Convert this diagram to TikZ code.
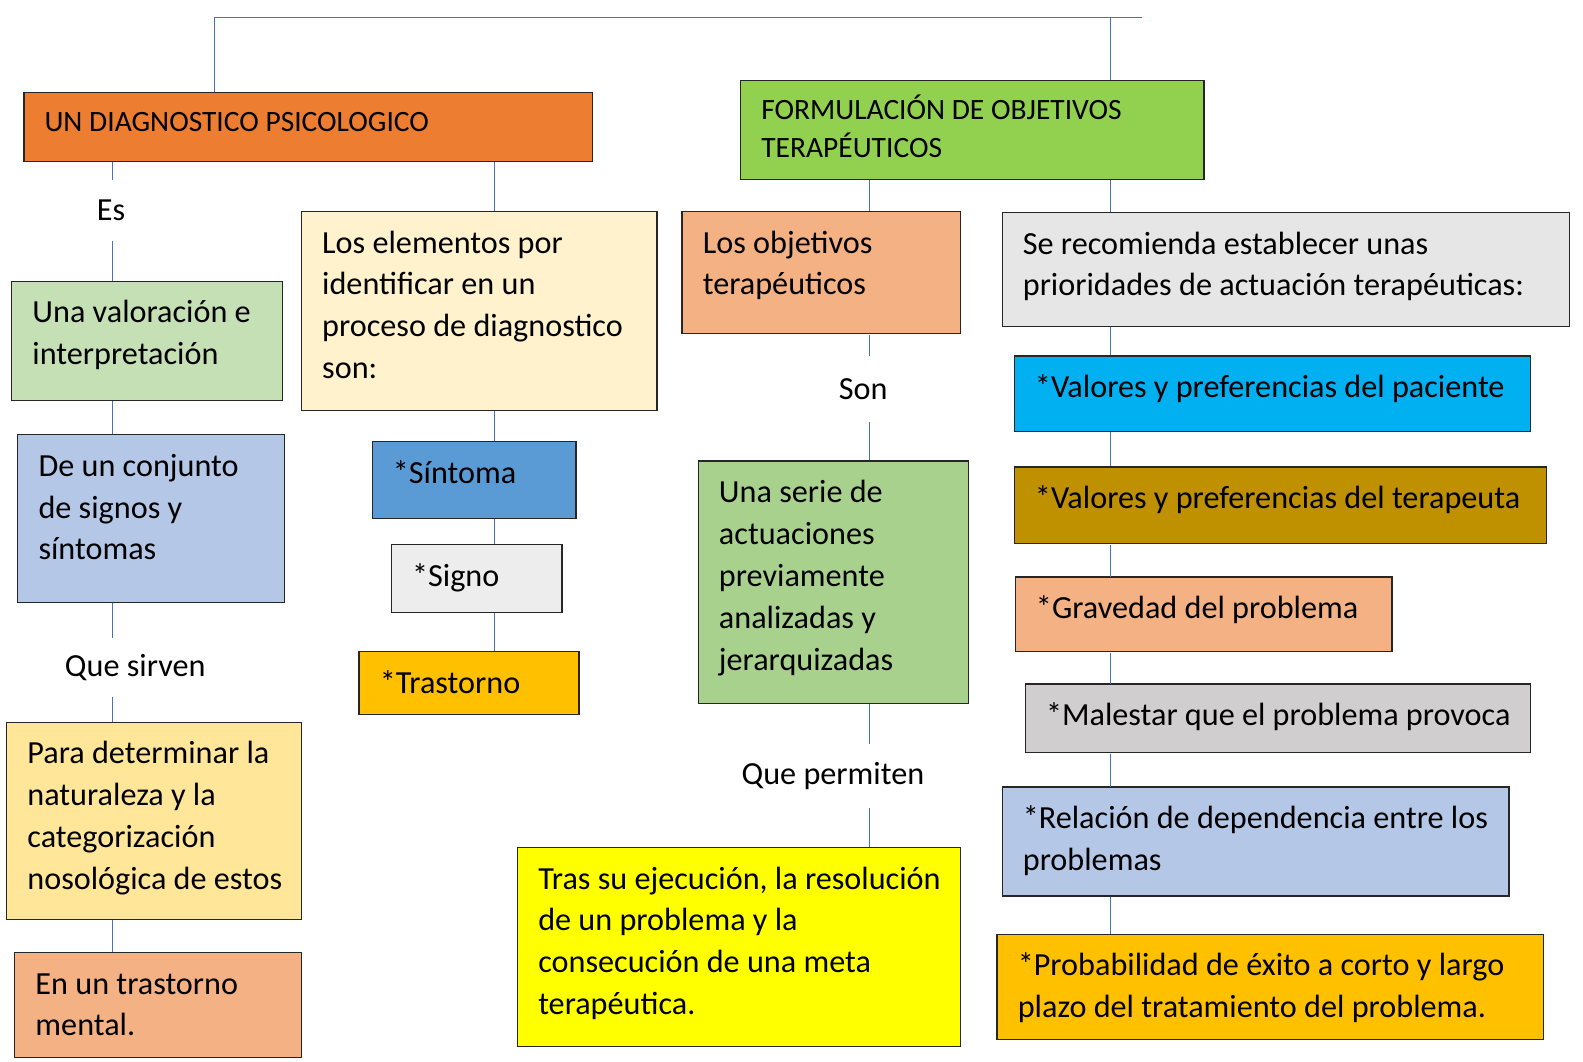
\documentclass[tikz,border=0pt]{standalone}
\usepackage{fontspec}
\setmainfont{Carlito}
\usetikzlibrary{positioning}

\definecolor{azul}{HTML}{4472C4}
\newcommand\cuerpo{\fontsize{31.9}{41.5}\selectfont}
\newcommand\titulo{\fontsize{29.2}{38}\selectfont}

\tikzset{
  caja/.style={draw=black!85,line width=1.3pt,anchor=north west,align=left,
    inner xsep=20.5pt,inner ysep=0pt,text height=41pt,font=\cuerpo,
    execute at begin node={\spaceskip=0pt\xspaceskip=0pt\hyphenpenalty=10000
      \rightskip=0pt plus 1fil minus 40pt}},
  cabeza/.style={caja,text height=38.5pt,font=\titulo},
  rotulo/.style={font=\cuerpo,inner sep=0pt},
  enlace/.style={draw=azul,line width=1pt}
}

\begin{document}
\begin{tikzpicture}[x=1pt,y=-1pt,scale=1.0096,every node/.append style={transform shape}]
\useasboundingbox (0,0) rectangle (1568,1051);

\coordinate (eje1) at (111,0);
\coordinate (eje2) at (490,0);
\coordinate (eje3) at (861,0);
\coordinate (eje4) at (1100,0);
\coordinate (esquina) at (212,17);
\coordinate (cierre) at (1131,17);

% cabeceras
\node [cabeza,fill={rgb,255:red,237;green,125;blue,49},text width=522pt,text depth=29.5pt] (diag) at (23,91) {UN DIAGNOSTICO PSICOLOGICO};
\node [cabeza,fill={rgb,255:red,146;green,208;blue,80},text width=418pt,text depth=59.5pt] (formul) at (733,79) {FORMULACIÓN DE OBJETIVOS\\TERAPÉUTICOS};

% columna 1
\node [rotulo,minimum height=60pt] (es) at (110,208) {Es};
\node [caja,fill={rgb,255:red,197;green,224;blue,180},text width=227pt,text depth=77pt] (valor) at (11,278) {Una valoración e\\interpretación};
\node [caja,fill={rgb,255:red,180;green,199;blue,231},text width=223pt,text depth=125pt] (conjunto) at (17,430) {De un conjunto\\de signos y\\síntomas};
\node [rotulo,minimum height=58pt] (sirven) at (134,661) {Que sirven};
\node [caja,fill={rgb,255:red,255;green,230;blue,153},text width=251pt,text depth=154pt] (para) at (6,715) {Para determinar la\\naturaleza y la\\categorización\\nosológica de estos};
\node [caja,fill={rgb,255:red,244;green,177;blue,131},text width=243pt,text depth=63pt] (mental) at (14,943) {En un trastorno\\mental.};

% columna 2
\node [caja,fill={rgb,255:red,255;green,242;blue,204},text width=311pt,text depth=156pt] (elementos) at (298,209) {Los elementos por\\identificar en un\\proceso de diagnostico\\son:};
\node [caja,fill={rgb,255:red,91;green,155;blue,213},text width=161pt,text depth=35pt] (sintoma) at (368,437) {*Síntoma};
\node [caja,fill={rgb,255:red,237;green,237;blue,237},text width=128pt,text depth=26pt] (signo) at (387,539) {*Signo};
\node [caja,fill={rgb,255:red,255;green,192;blue,0},text width=177pt,text depth=21pt] (trastorno) at (355,645) {*Trastorno};

% columna 3
\node [caja,fill={rgb,255:red,244;green,177;blue,131},text width=235pt,text depth=80pt] (objetivos) at (675,209) {Los objetivos\\terapéuticos};
\node [rotulo,minimum height=65pt] (son) at (855,385) {Son};
\node [caja,fill={rgb,255:red,169;green,209;blue,142},text width=227pt,text depth=199pt] (serie) at (691,456) {Una serie de\\actuaciones\\previamente\\analizadas y\\jerarquizadas};
\node [rotulo,minimum height=63pt] (permiten) at (825,769) {Que permiten};
\node [caja,fill={rgb,255:red,255;green,255;blue,0},text width=398pt,text depth=156pt] (tras) at (512,839) {Tras su ejecución, la resolución\\de un problema y la\\consecución de una meta\\terapéutica.};

% columna 4
\node [caja,fill={rgb,255:red,231;green,230;blue,230},text width=521pt,text depth=72pt] (recomienda) at (992,210) {Se recomienda establecer unas\\prioridades de actuación terapéuticas:};
\node [caja,fill={rgb,255:red,0;green,176;blue,240},text width=470pt,text depth=34pt] (paciente) at (1004,352) {*Valores y preferencias del paciente};
\node [caja,fill={rgb,255:red,191;green,144;blue,0},text width=486pt,text depth=35pt] (terapeuta) at (1004,462) {*Valores y preferencias del terapeuta};
\node [caja,fill={rgb,255:red,244;green,177;blue,131},text width=332pt,text depth=33pt] (gravedad) at (1005,571) {*Gravedad del problema};
\node [caja,fill={rgb,255:red,208;green,206;blue,206},text width=459pt,text depth=27pt] (malestar) at (1015,677) {*Malestar que el problema provoca};
\node [caja,fill={rgb,255:red,180;green,199;blue,231},text width=461pt,text depth=67pt] (relacion) at (992,779) {*Relación de dependencia entre los\\problemas};
\node [caja,fill={rgb,255:red,255;green,192;blue,0},text width=500pt,text depth=63pt] (probabilidad) at (987,925) {*Probabilidad de éxito a corto y largo\\plazo del tratamiento del problema.};

% enlaces
\draw [enlace] (diag.north -| esquina) |- (cierre);
\draw [enlace] (formul.north -| eje4) -- (eje4 |- cierre);

\draw [enlace] (diag.south -| eje1) -- (es.north -| eje1);
\draw [enlace] (es.south -| eje1) -- (valor.north -| eje1);
\draw [enlace] (valor.south -| eje1) -- (conjunto.north -| eje1);
\draw [enlace] (conjunto.south -| eje1) -- (sirven.north -| eje1);
\draw [enlace] (sirven.south -| eje1) -- (para.north -| eje1);
\draw [enlace] (para.south -| eje1) -- (mental.north -| eje1);

\draw [enlace] (diag.south -| eje2) -- (elementos.north -| eje2);
\draw [enlace] (elementos.south -| eje2) -- (sintoma.north -| eje2);
\draw [enlace] (sintoma.south -| eje2) -- (signo.north -| eje2);
\draw [enlace] (signo.south -| eje2) -- (trastorno.north -| eje2);

\draw [enlace] (formul.south -| eje3) -- (objetivos.north -| eje3);
\draw [enlace] (objetivos.south -| eje3) -- (son.north -| eje3);
\draw [enlace] (son.south -| eje3) -- (serie.north -| eje3);
\draw [enlace] (serie.south -| eje3) -- (permiten.north -| eje3);
\draw [enlace] (permiten.south -| eje3) -- (tras.north -| eje3);

\draw [enlace] (formul.south -| eje4) -- (recomienda.north -| eje4);
\draw [enlace] (recomienda.south -| eje4) -- (paciente.north -| eje4);
\draw [enlace] (paciente.south -| eje4) -- (terapeuta.north -| eje4);
\draw [enlace] (terapeuta.south -| eje4) -- (gravedad.north -| eje4);
\draw [enlace] (gravedad.south -| eje4) -- (malestar.north -| eje4);
\draw [enlace] (malestar.south -| eje4) -- (relacion.north -| eje4);
\draw [enlace] (relacion.south -| eje4) -- (probabilidad.north -| eje4);

\end{tikzpicture}
\end{document}
